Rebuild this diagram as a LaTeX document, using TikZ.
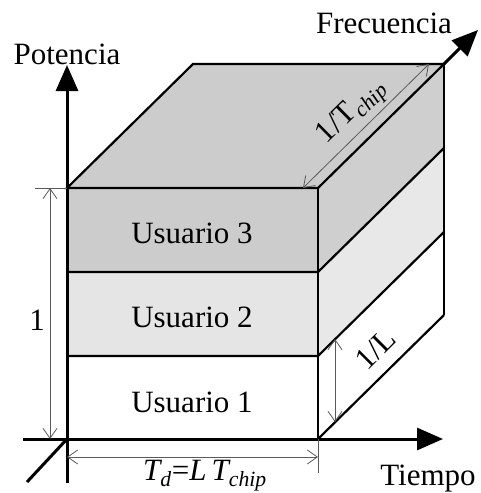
\documentclass[tikz,border=0pt]{standalone}
\usepackage{fontspec}
\setmainfont{Liberation Serif}
\usetikzlibrary{arrows.meta,calc,positioning}

\begin{document}
\begin{tikzpicture}[x=1pt,y=-1pt,
    font=\fontsize{31}{36}\selectfont,
    edge/.style={line width=2.2pt},
    axis/.style={line width=3pt,-{Triangle[length=26pt,width=22pt]}},
    dimline/.style={gray!70!black,line width=0.8pt,{Straight Barb[length=10pt,width=14pt]}-{Straight Barb[length=10pt,width=14pt]}},
    extline/.style={gray!70!black,line width=0.8pt},
    dimlabel/.style={text=black,inner sep=1pt}]
        \useasboundingbox (0,0) rectangle (480,493);
        % corners of the block
        \coordinate (O) at (67,439);
        \coordinate (A) at (318,439);
        \coordinate (B) at (318,188);
        \coordinate (C) at (67,188);
        \coordinate (Cb) at (193,64);
        \coordinate (Bb) at (444,64);
        \coordinate (Ab) at (444,315);
        % faces
        \fill[gray!40] (C) -- (Cb) -- (Bb) -- (B) -- cycle;
        \fill[gray!40] (67,188) rectangle (318,272);
        \fill[gray!20] (67,272) rectangle (318,356);
        \fill[white] (67,356) rectangle (318,439);
        \fill[gray!38] (318,188) -- (444,64) -- (444,148) -- (318,272) -- cycle;
        \fill[gray!18] (318,272) -- (444,148) -- (444,232) -- (318,356) -- cycle;
        % edges
        \draw[edge] (C) -- (Cb) -- (Bb) -- (B) -- cycle;
        \draw[edge] (C) rectangle (A);
        \draw[edge] (67,272) -- (318,272) -- (444,148);
        \draw[edge] (67,356) -- (318,356) -- (444,232);
        \draw[edge] (A) -- (Ab);
        \draw[line width=1.6pt] (Bb) -- (Ab);
        % axes
        \draw[axis] (67,483) -- (67,65);
        \draw[axis] (23,439) -- (443,439);
        \draw[line width=3pt] (27,482) -- (O);
        \draw[axis] (Bb) -- (478,30);
        \node[anchor=base] (pot) at (67,64) {Potencia};
        \node[anchor=base] (frec) at (384,33) {Frecuencia};
        \node[anchor=base] (tiempo) at (428,485) {Tiempo};
        % users
        \node[anchor=base] (u3) at (192,243) {Usuario 3};
        \node[anchor=base] (u2) at (192,327) {Usuario 2};
        \node[anchor=base] (u1) at (192,412) {Usuario 1};
        % dimensions
        \draw[extline] (35,188) -- (C);
        \draw[dimline] (50,188) -- (50,439);
        \node (uno) at (37,320) {1};
        \draw[extline] (A) -- (318,473);
        \draw[dimline] (67,457) -- (318,457);
        \node[anchor=base] (td) at (205,480) {{\itshape T}\textsubscript{\itshape d}={\itshape L\,T}\textsubscript{\itshape chip}};
        \draw[dimline] (335,339) -- (335,422);
        \node[rotate=45,dimlabel] (invL) at (376,349) {1/L};
        \draw[dimline] (303,188) -- (429,64)
            node[midway,above=2pt,sloped,dimlabel] (tchip) {1/T\textsubscript{\itshape chip}};
      \end{tikzpicture}
\end{document}
